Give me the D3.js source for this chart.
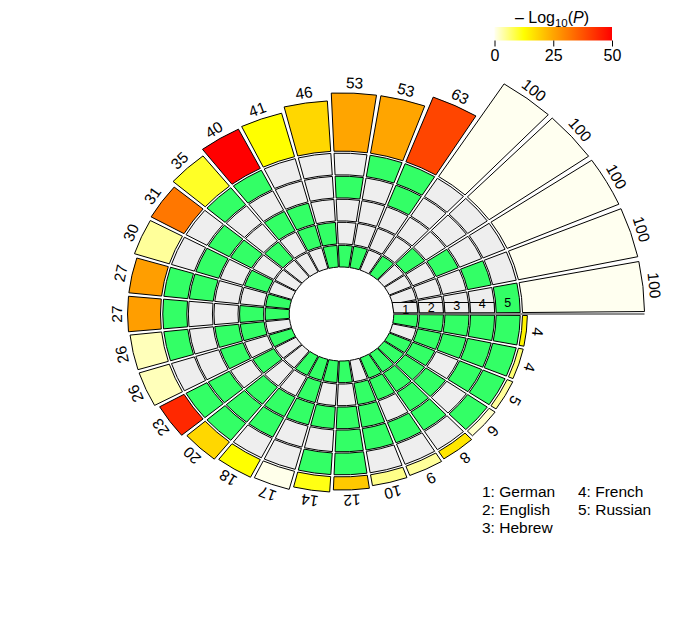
<!DOCTYPE html>
<html><head><meta charset="utf-8">
<script src="https://cdn.jsdelivr.net/npm/d3@7"></script>
<style>body{margin:0;background:#fff}svg{display:block}text{font-family:"Liberation Sans",Arial,Helvetica,sans-serif}</style>
</head><body>
<svg id="chart" width="682" height="630"></svg>
<script>
// ---------------- data ----------------
const setNames = ["German","English","Hebrew","French","Russian"];
const sizes = [100,100,100,100,100,63,53,53,46,41,40,35,31,30,27,27,26,26,23,20,18,17,14,12,10,9,8,6,5,4,4];
const logP  = [0,0,0,0,0,39.5,25,25,18,12.5,50,10.5,32,4.5,26,26,2.8,2.8,44,18,12.5,0.3,11.5,20,5.4,4.5,16,2,4.5,6.5,14];
// member sets of each intersection (1 = German ... 5 = Russian)
const members = [
 [5],[4],[3],[2],[1],
 [4,5],[1,5],[1,4],[1,2],[2,3],[3,5],[2,5],[3,4],[2,4],[1,4,5],
 [1,2,5],[2,3,5],[1,3],[2,4,5],[3,4,5],[1,3,4],[1,2,3],[1,3,5],[1,3,4,5],[2,3,4],
 [1,2,4],[1,2,3,4],[1,2,3,5],[1,2,4,5],[2,3,4,5],
 [1,2,3,4,5]
];
const legendTicks = [0,25,50];

// ---------------- layout ----------------
const cx = 341.5, cy = 314, ky = 0.9;
const n = sizes.length;
const svg = d3.select("#chart");

const ang = d3.scaleLinear().domain([0, n]).range([0, 2*Math.PI]); // math angle, ccw from +x
const gap = 0.018;
const track = d3.scaleBand().domain([1,2,3,4,5]).range([51.5, 179.5]).paddingInner(0.06).paddingOuter(0.03);
const barR = d3.scaleLinear().domain([0, 100]).range([181, 303]);
const color = d3.scaleLinear().domain([0,12.5,25,50]).range(["#FFFFF0","#FFFF00","#FFA500","#FF0000"]).clamp(true);

const toD3 = a => Math.PI/2 - a;
const arc = d3.arc();
const g = svg.append("g").attr("transform", `translate(${cx},${cy}) scale(1,${ky})`);
const sx = (r,a) => cx + r*Math.cos(a);
const sy = (r,a) => cy - ky*r*Math.sin(a);

const cells = [];
members.forEach((m,i) => {
  [1,2,3,4,5].forEach(t => cells.push({i, t, on: m.includes(t)}));
});

g.selectAll("path.cell").data(cells).join("path")
  .attr("class","cell")
  .attr("d", d => arc({innerRadius: track(d.t), outerRadius: track(d.t)+track.bandwidth(),
      startAngle: toD3(ang(d.i+1)-gap/2), endAngle: toD3(ang(d.i)+gap/2)}))
  .attr("fill", d => d.on ? "#33FF66" : "#EEEEEE")
  .attr("stroke", "#000").attr("stroke-width", 1)
  .attr("vector-effect","non-scaling-stroke");

// bars
g.selectAll("path.bar").data(sizes).join("path")
  .attr("class","bar")
  .attr("d", (v,i) => arc({innerRadius: barR(0), outerRadius: barR(v),
      startAngle: toD3(ang(i+1)-gap/2), endAngle: toD3(ang(i)+gap/2)}))
  .attr("fill", (v,i) => color(logP[i]))
  .attr("stroke", "#000").attr("stroke-width", 1)
  .attr("vector-effect","non-scaling-stroke");

// label band over the first segment (tracks 1-4)
const h0 = 1.2/ky, h1 = 11.5/ky;
[1,2,3,4].forEach(t => {
  const ri = track(t), ro = track(t)+track.bandwidth();
  const xi0 = Math.sqrt(ri*ri-h0*h0), xi1 = Math.sqrt(ri*ri-h1*h1);
  const xo0 = Math.sqrt(ro*ro-h0*h0), xo1 = Math.sqrt(ro*ro-h1*h1);
  g.append("path")
    .attr("d", `M${xi0},${-h0}L${xo0},${-h0}L${xo1},${-h1}L${xi1},${-h1}Z`)
    .attr("fill", members[0].includes(t) ? "#33FF66" : "#EEEEEE")
    .attr("stroke","#000").attr("stroke-width",1).attr("vector-effect","non-scaling-stroke");
});
// start line
svg.append("line").attr("x1", cx+track(1)).attr("x2", cx+barR(100)).attr("y1", cy).attr("y2", cy)
  .attr("stroke","#666").attr("stroke-width",1.6);

// track labels
const labA = 4.3*Math.PI/180;
svg.selectAll("text.tl").data([1,2,3,4,5]).join("text")
  .attr("class","tl")
  .attr("x", t => sx(track(t)+track.bandwidth()/2, labA))
  .attr("y", t => sy(track(t)+track.bandwidth()/2, labA))
  .attr("text-anchor","middle").attr("dominant-baseline","central")
  .attr("font-size", 12.5).text(t => t);

// bar value labels
svg.selectAll("text.bl").data(sizes).join("text")
  .attr("class","bl")
  .attr("transform", (v,i) => {
    const a = (ang(i)+ang(i+1))/2, r = barR(v)+11.5;
    return `translate(${sx(r,a)},${sy(r,a)}) rotate(${90 - a*180/Math.PI})`;
  })
  .attr("text-anchor","middle").attr("dominant-baseline","central")
  .attr("font-size", 15.5).text(v => v);

// colour legend
const lx = d3.scaleLinear().domain([0,50]).range([494.5, 612]);
const defs = svg.append("defs");
const grad = defs.append("linearGradient").attr("id","lg");
d3.range(0, 51, 2.5).forEach(v => grad.append("stop").attr("offset", (v/50*100)+"%").attr("stop-color", color(v)));
svg.append("rect").attr("x", lx(0)).attr("y", 27).attr("width", lx(50)-lx(0)).attr("height", 13.5).attr("fill","url(#lg)");
const ax = svg.append("g").attr("transform","translate(0,40.5)")
  .call(d3.axisBottom(lx).tickValues(legendTicks).tickSize(6).tickPadding(3).tickFormat(d3.format("d")));
ax.select(".domain").remove();
ax.selectAll("text").attr("font-size", 16).attr("font-family",'"Liberation Sans",Arial,sans-serif').attr("fill","#000");
ax.selectAll("line").attr("stroke","#000");

const title = svg.append("text").attr("x", 552).attr("y", 23).attr("text-anchor","middle").attr("font-size", 16);
title.append("tspan").text("\u2013 Log");
title.append("tspan").attr("font-size", 11.5).attr("dy", 4).text("10");
title.append("tspan").attr("dy", -4).text("(");
title.append("tspan").attr("font-style","italic").text("P");
title.append("tspan").text(")");

// set legend
const legPos = [[482,497],[482,515],[482,533],[578,497],[578,515]];
svg.selectAll("text.sl").data(setNames).join("text")
  .attr("class","sl")
  .attr("x", (d,i) => legPos[i][0]).attr("y", (d,i) => legPos[i][1])
  .attr("font-size", 15.5).text((d,i) => `${i+1}: ${d}`);
</script>
</body></html>
